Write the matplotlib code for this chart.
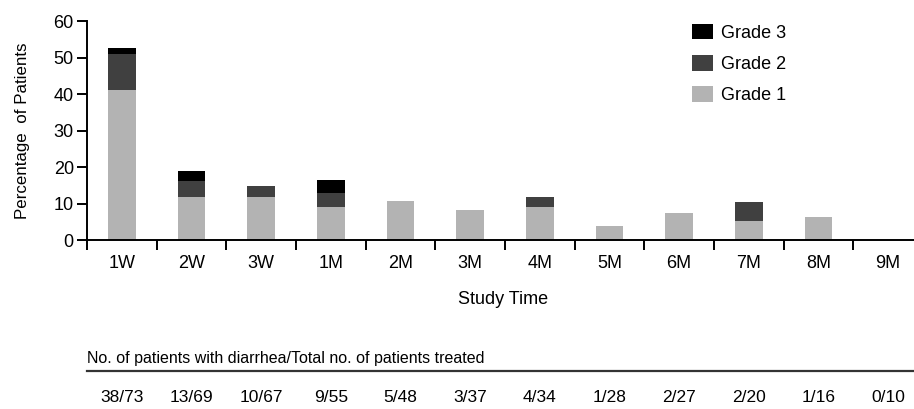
import matplotlib
matplotlib.use('Agg')
import matplotlib.pyplot as plt
import matplotlib.transforms as mtransforms
from matplotlib.lines import Line2D
import numpy as np

plt.rcParams['font.family'] = ['Liberation Sans', 'DejaVu Sans']

# study time points
periods = ['1W', '2W', '3W', '1M', '2M', '3M', '4M', '5M', '6M', '7M', '8M', '9M']
# percentage of patients by grade
grade1 = [41.1, 11.8, 11.9, 9.1, 10.6, 8.1, 9.0, 3.7, 7.5, 5.3, 6.4, 0]
grade2 = [9.9, 4.4, 3.0, 3.7, 0, 0, 2.9, 0, 0, 5.0, 0, 0]
grade3 = [1.6, 2.8, 0, 3.6, 0, 0, 0, 0, 0, 0, 0, 0]
# patients with diarrhea / patients treated
counts = ['38/73', '13/69', '10/67', '9/55', '5/48', '3/37', '4/34', '1/28',
          '2/27', '2/20', '1/16', '0/10']

c1 = '#b3b3b3'
c2 = '#404040'
c3 = '#000000'

fig = plt.figure(figsize=(9.14, 4.09), dpi=100)
ax = fig.add_axes([87/914, 1-240/409, 836/914, 219/409])

x = np.arange(len(periods))
g1 = np.array(grade1)
g2 = np.array(grade2)
g3 = np.array(grade3)
w = 0.4
ax.bar(x, g1, w, color=c1, label='Grade 1')
ax.bar(x, g2, w, bottom=g1, color=c2, label='Grade 2')
ax.bar(x, g3, w, bottom=g1+g2, color=c3, label='Grade 3')

ax.set_xlim(-0.5, 11.5)
ax.set_ylim(0, 60)
ax.set_yticks(range(0, 61, 10))
ax.spines['top'].set_visible(False)
ax.spines['right'].set_visible(False)
ax.spines['left'].set_linewidth(1.4)
ax.spines['bottom'].set_linewidth(1.4)

# boundary ticks without labels, labels at category centers
ax.set_xticks(np.arange(-0.5, 12, 1))
ax.set_xticklabels([])
ax.set_xticks(x, minor=True)
ax.set_xticklabels(periods, minor=True, fontsize=13)
ax.tick_params(axis='x', which='major', direction='out', length=7.5, width=1.4)
ax.tick_params(axis='x', which='minor', length=0, pad=10.5)
ax.tick_params(axis='y', direction='out', length=7.5, width=1.4, labelsize=13, pad=2)

ax.set_ylabel('Percentage  of Patients', fontsize=12.2)
ax.yaxis.set_label_coords(-(87-30)/836, 0.5)

h, l = ax.get_legend_handles_labels()
leg = ax.legend(h[::-1], l[::-1], loc='upper left', bbox_to_anchor=(692/914, 1-24/409),
                bbox_transform=fig.transFigure, frameon=False, fontsize=13,
                handlelength=1.15, handleheight=0.93, handletextpad=0.45,
                labelspacing=0.74, borderpad=0, borderaxespad=0)

fig.text(503/914, 1-300/409, 'Study Time', fontsize=13, ha='center', va='center')
fig.text(87/914, 1-358/409, 'No. of patients with diarrhea/Total no. of patients treated',
         fontsize=11.5, ha='left', va='center')
fig.add_artist(Line2D([87/914, 1.0], [1-371/409, 1-371/409], transform=fig.transFigure,
                      color='#333333', lw=1.6))

trans = mtransforms.blended_transform_factory(ax.transData, fig.transFigure)
for xi, c in zip(x, counts):
    ax.text(xi, 1-398/409, c, transform=trans, fontsize=12.5, ha='center', va='center',
            clip_on=False)

fig.savefig('out.png', dpi=100)
